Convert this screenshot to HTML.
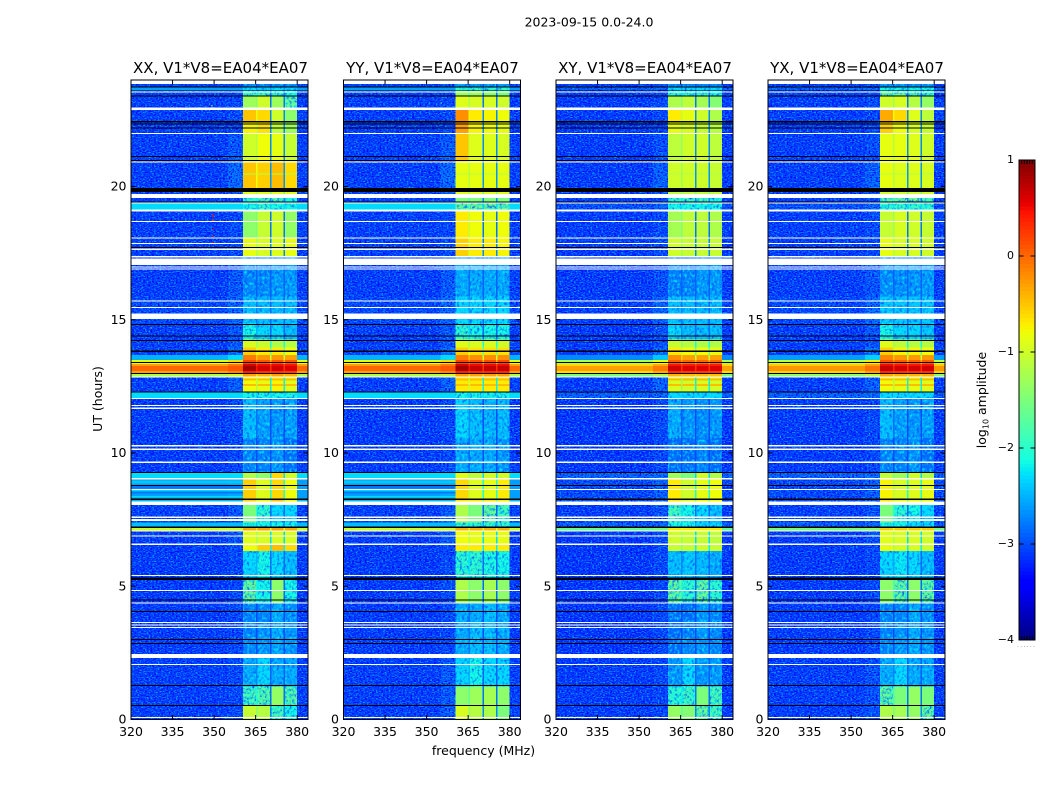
<!DOCTYPE html>
<html>
<head>
<meta charset="utf-8">
<title>2023-09-15 0.0-24.0</title>
<style>
html,body{margin:0;padding:0;background:#fff;width:1050px;height:800px;overflow:hidden}
svg{display:block}
text{font-family:"DejaVu Sans","Liberation Sans",sans-serif;fill:#000;font-size:12.5px}
</style>
</head>
<body>
<svg id="figure" xmlns="http://www.w3.org/2000/svg" width="1050" height="800" viewBox="0 0 1050 800">
<defs>
<filter id="grain" filterUnits="userSpaceOnUse" x="0" y="0" width="1050" height="800" color-interpolation-filters="sRGB">
<feTurbulence type="fractalNoise" baseFrequency="0.55 0.8" numOctaves="1" seed="4" result="n"/>
<feColorMatrix in="n" type="matrix" values="0 0 0 0 0  0 0 0 0 0  0 0 0 0 1  4.5 0 0 0 -2.1" result="dark"/>
<feColorMatrix in="n" type="matrix" values="0 0 0 0 0  0 0 0 0 0.62  0 0 0 0 1  0 6 0 0 -3.2" result="light"/>
<feMerge result="m"><feMergeNode in="dark"/><feMergeNode in="light"/></feMerge>
<feComposite in="m" in2="SourceAlpha" operator="in"/>
</filter>
<filter id="grainBand" filterUnits="userSpaceOnUse" x="0" y="0" width="1050" height="800" color-interpolation-filters="sRGB">
<feTurbulence type="fractalNoise" baseFrequency="0.4 0.35" numOctaves="2" seed="9" result="n"/>
<feColorMatrix in="n" type="matrix" values="0 0 0 0 0  0 0 0 0 0.3  0 0 0 0 1  3 0 0 0 -1.45" result="dark"/>
<feColorMatrix in="n" type="matrix" values="0 0 0 0 0  0 0 0 0 0.9  0 0 0 0 1  0 3 0 0 -1.45" result="light"/>
<feMerge result="m"><feMergeNode in="dark"/><feMergeNode in="light"/></feMerge>
<feComposite in="m" in2="SourceAlpha" operator="in"/>
</filter>
</defs>
<rect width="1050" height="800" fill="#fff"/>
<text x="589" y="26.5" text-anchor="middle">2023-09-15 0.0-24.0</text>
<text x="220.5" y="73" text-anchor="middle" style="font-size:15px">XX, V1*V8=EA04*EA07</text>
<text x="432.5" y="73" text-anchor="middle" style="font-size:15px">YY, V1*V8=EA04*EA07</text>
<text x="645" y="73" text-anchor="middle" style="font-size:15px">XY, V1*V8=EA04*EA07</text>
<text x="857" y="73" text-anchor="middle" style="font-size:15px">YX, V1*V8=EA04*EA07</text>
<text x="102" y="399" text-anchor="middle" transform="rotate(-90 102 399)">UT (hours)</text>
<text x="483.5" y="755" text-anchor="middle">frequency (MHz)</text>
<text x="986" y="400" text-anchor="middle" transform="rotate(-90 986 400)">log<tspan font-size="8" dy="2.5">10</tspan><tspan dy="-2.5"> amplitude</tspan></text>
<text x="1017" y="647" style="font-size:6px;letter-spacing:1.3px;fill:#777">......</text>
<g id="plots"></g>
<g id="colorbar"></g>
</svg>
<script>
// ---------- data ----------
var xTickLabels = [320, 335, 350, 365, 380];
var yTickLabels = [0, 5, 10, 15, 20];
var colorbarTicks = [1, 0, -1, -2, -3, -4];
var freqEdges = [320, 355, 360.4, 365.1, 365.6, 370.2, 370.7, 375.1, 375.6, 380, 384];
var utEdges = [0, 0.55, 1.25, 2.4, 3.7, 4.4, 5.3, 6.35, 6.6, 7.1, 7.24, 7.42, 8.08, 8.29, 9.06, 9.3, 10.6, 12.08, 12.32, 12.89, 13.02, 13.1, 13.3, 13.38, 13.52, 13.7, 14, 14.3, 14.9, 15.9, 17.4, 18.1, 19.18, 19.42, 19.76, 19.98, 20.96, 22.03, 22.5, 23, 23.43, 23.62, 23.77, 24];
var gapLevels = [-2.7, -2.8, -2.9, -3, -3, -2.85, -2.85, -2.2, -2.3, -0.8, -2.55, -2.85, -1.5, -2.1, -2.3, -3, -3, -2.3, -2.2, -0.6, 0.2, 0.3, 0.2, -0.4, -1, -1.6, -2.1, -2.85, -2.85, -2.9, -2.7, -2.8, -2.3, -2.7, -1.5, -2.65, -2.7, -2.7, -2.7, -2.8, -2.8, -2.6, -3];
// each row: left background, mid background, sub-band 1..4 (log10 amplitude)
var rowsXX = [
[-3.05,-3,-1.05,-1.15,-1.8,-2.1],[-3.05,-3,-1.8,-1.7,-1.35,-1.7],[-3.05,-3,-2.55,-2.3,-2.55,-2.55],[-3.07,-3,-2.75,-2.65,-2.55,-2.65],
[-3.07,-3,-2.75,-2.75,-2.55,-2.7],[-3.07,-3,-1.6,-2.1,-1.4,-2.1],[-3.07,-3,-2.3,-2.1,-2.3,-2.45],[-3.07,-3,-0.8,-0.55,-0.45,-0.6],
[-3.07,-2.9,-0.9,-0.95,-0.95,-0.95],[-1,-1,-0.35,-0.3,-0.3,-0.35],[-2.45,-2.45,-2.1,-2.1,-2.1,-2.1],[-3.05,-2.9,-1.5,-1.95,-2.3,-2.3],
[-2.45,-2.45,-0.6,-0.8,-0.5,-0.8],[-2.6,-2.55,-0.55,-0.9,-0.6,-0.8],[-2.3,-2.3,-1.2,-1.4,-0.6,-1],[-3.07,-3,-2.75,-2.75,-2.65,-2.85],
[-3.07,-3,-2.45,-2.6,-2.65,-2.6],[-2.3,-2.3,-2.1,-2.1,-2.1,-2.1],[-3.05,-2.85,-0.8,-0.85,-0.75,-0.9],[-1.2,-1,-0.3,-0.4,-0.3,-0.4],
[-0.3,-0.15,0.4,0.3,0.3,0.25],[0,0.1,0.85,0.65,0.65,0.6],[-0.3,-0.1,0.6,0.5,0.5,0.45],[-0.85,-0.6,0.2,0.1,0.1,0.1],
[-2.5,-2.3,-0.1,-0.25,-0.25,-0.3],[-3.05,-2.75,-0.55,-0.7,-0.7,-0.8],[-3.05,-2.95,-0.95,-1.05,-1.2,-1.15],[-3.05,-2.9,-2.1,-2.3,-2.3,-2.45],
[-3,-2.8,-2.45,-2.45,-2.45,-2.45],[-3.05,-2.9,-2.75,-2.75,-2.65,-2.65],[-3.05,-3,-0.85,-0.95,-0.9,-0.85],[-3.05,-3,-1.4,-1.05,-1,-1.35],
[-2.3,-2.3,-2.1,-1.95,-2.1,-2.1],[-3.05,-3,-1.95,-1.8,-1.8,-2.1],[-3.05,-2.9,-0.9,-0.9,-0.9,-0.9],[-3.05,-2.8,-0.5,-0.55,-0.45,-0.6],
[-3.05,-2.9,-1,-0.8,-0.85,-1.05],[-3.05,-3,-0.75,-0.65,-1.1,-1.3],[-3.05,-3,-0.5,-0.6,-1,-1.4],[-3.05,-3,-1.3,-1,-1.3,-1.6],
[-3.05,-3,-1.8,-1.8,-1.95,-2.1],[-2.6,-2.6,-2.3,-2.3,-2.3,-2.3],[-3.05,-3,-2.75,-2.75,-2.75,-2.75]];
var rowsYY = [
[-3.05,-2.9,-0.95,-1.15,-1.2,-1.5],[-3.05,-2.9,-1.4,-1.3,-1.25,-1.4],[-3.05,-2.9,-2.3,-2.1,-2.3,-2.3],[-3.07,-3,-2.55,-2.45,-2.45,-2.55],
[-3.07,-3,-2.55,-2.55,-2.45,-2.55],[-3.07,-3,-1.2,-1.4,-1.25,-1.4],[-3.07,-3,-1.95,-1.95,-2.05,-2.1],[-3.07,-3,-0.7,-0.7,-0.7,-0.7],
[-3.07,-2.9,-0.8,-0.85,-0.85,-0.85],[-1,-1,-0.4,-0.4,-0.4,-0.4],[-2.45,-2.45,-1.95,-1.95,-1.95,-1.95],[-3.05,-2.9,-1.2,-1.5,-1.6,-1.8],
[-2.45,-2.45,-0.7,-0.7,-0.7,-0.75],[-2.6,-2.55,-0.6,-0.9,-0.85,-0.7],[-2.3,-2.3,-0.9,-1.1,-1,-1],[-3.07,-3,-2.55,-2.55,-2.55,-2.65],
[-3.07,-3,-2.3,-2.45,-2.5,-2.45],[-2.3,-2.3,-2.1,-2.1,-2.1,-2.1],[-3.05,-2.85,-0.7,-0.7,-0.7,-0.7],[-1.2,-1,-0.3,-0.3,-0.3,-0.3],
[-0.3,-0.15,0.4,0.35,0.35,0.35],[0,0.1,0.85,0.7,0.7,0.7],[-0.3,-0.1,0.6,0.5,0.5,0.5],[-0.85,-0.6,0.2,0.15,0.15,0.15],
[-2.5,-2.3,-0.1,-0.2,-0.2,-0.2],[-3.05,-2.75,-0.55,-0.65,-0.65,-0.65],[-3.05,-2.95,-0.9,-0.95,-0.95,-1],[-3.05,-2.9,-1.95,-2.1,-2.1,-2.1],
[-3,-2.8,-2.3,-2.3,-2.3,-2.3],[-3.05,-2.9,-2.55,-2.55,-2.55,-2.55],[-3.05,-3,-0.55,-0.7,-0.7,-0.75],[-3.05,-3,-0.7,-0.8,-0.85,-0.8],
[-2.3,-2.3,-1.6,-1.6,-1.6,-1.6],[-3.05,-3,-1.5,-1.5,-1.5,-1.5],[-3.05,-2.9,-0.9,-0.9,-0.9,-0.9],[-3.05,-2.8,-0.85,-0.85,-0.85,-0.85],
[-3.05,-2.9,-0.5,-0.9,-0.9,-0.95],[-3.05,-3,-0.3,-0.75,-0.8,-0.85],[-3.05,-3,-0.2,-0.7,-0.75,-0.8],[-3.05,-3,-0.9,-0.95,-0.95,-1],
[-3.05,-3,-1.3,-1.3,-1.4,-1.5],[-2.6,-2.6,-1.95,-1.95,-1.95,-1.95],[-3.05,-3,-2.65,-2.65,-2.65,-2.65]];
var rowsXY = [
[-3.07,-3,-1.35,-1.45,-1.6,-1.8],[-3.07,-3,-1.95,-1.85,-1.5,-1.8],[-3.07,-3,-2.65,-2.3,-2.65,-2.65],[-3.1,-3,-2.85,-2.75,-2.65,-2.75],
[-3.1,-3,-2.85,-2.85,-2.65,-2.75],[-3.1,-3,-1.6,-1.95,-1.6,-1.95],[-3.1,-3,-2.45,-2.4,-2.45,-2.55],[-3.1,-3,-1.05,-1.05,-1,-1.05],
[-3.1,-3,-1,-1.05,-1.05,-1.1],[-1.6,-1.5,-0.7,-0.7,-0.7,-0.7],[-2.85,-2.8,-2.1,-2.1,-2.3,-2.3],[-3.07,-2.95,-1.8,-2.1,-2.3,-2.45],
[-2.95,-2.85,-0.7,-0.9,-0.8,-0.8],[-3,-2.85,-0.7,-1,-0.85,-0.8],[-2.85,-2.8,-1.3,-1.5,-1,-1.2],[-3.1,-3,-2.85,-2.85,-2.75,-2.85],
[-3.1,-3,-2.55,-2.65,-2.7,-2.65],[-2.85,-2.8,-2.3,-2.3,-2.3,-2.3],[-3.07,-2.85,-0.95,-1,-0.95,-1],[-1.5,-1.2,-0.4,-0.45,-0.45,-0.45],
[-0.6,-0.35,0.3,0.25,0.25,0.25],[-0.3,-0.1,0.65,0.6,0.6,0.6],[-0.6,-0.35,0.45,0.4,0.4,0.4],[-1.2,-0.8,0.05,0,0,0],
[-2.7,-2.4,-0.2,-0.3,-0.3,-0.3],[-3.07,-2.8,-0.7,-0.8,-0.8,-0.85],[-3.07,-2.95,-1.05,-1.15,-1.2,-1.2],[-3.07,-2.95,-2.3,-2.45,-2.45,-2.45],
[-3.05,-2.85,-2.45,-2.45,-2.45,-2.45],[-3.07,-2.95,-2.75,-2.75,-2.65,-2.65],[-3.07,-3,-1,-1.05,-1.05,-1.05],[-3.07,-3,-1.25,-1.1,-1.1,-1.2],
[-2.95,-2.85,-2.1,-2.1,-2.1,-2.1],[-3.07,-3,-1.95,-1.85,-1.85,-2.1],[-3.07,-2.95,-1.1,-1.1,-1.1,-1.1],[-3.07,-2.85,-1,-1,-1,-1.05],
[-3.07,-2.95,-1.1,-1,-1,-1.1],[-3.07,-3,-0.85,-0.95,-1.05,-1.15],[-3.07,-3,-0.7,-0.85,-1,-1.2],[-3.07,-3,-1.2,-1.1,-1.25,-1.45],
[-3.07,-3,-1.95,-1.95,-1.95,-2.1],[-2.85,-2.8,-2.3,-2.3,-2.3,-2.3],[-3.07,-3,-2.75,-2.75,-2.75,-2.75]];
var rowsYX = [
[-3.05,-2.95,-1.2,-1.25,-1.35,-1.6],[-3.05,-2.95,-1.6,-1.5,-1.35,-1.5],[-3.05,-2.95,-2.55,-2.3,-2.55,-2.55],[-3.07,-3,-2.75,-2.65,-2.55,-2.65],
[-3.07,-3,-2.75,-2.75,-2.55,-2.7],[-3.07,-3,-1.4,-1.6,-1.4,-1.6],[-3.07,-3,-2.3,-2.2,-2.3,-2.45],[-3.07,-3,-0.85,-0.95,-0.95,-1],
[-3.07,-2.95,-0.9,-0.95,-0.95,-1],[-1.5,-1.4,-0.55,-0.55,-0.55,-0.55],[-2.85,-2.8,-2.1,-2.1,-2.3,-2.3],[-3.05,-2.95,-1.5,-1.95,-2.1,-2.3],
[-2.95,-2.85,-0.7,-0.85,-0.8,-0.85],[-3,-2.85,-0.75,-0.95,-0.9,-0.85],[-2.85,-2.8,-1.1,-1.3,-1,-1.2],[-3.07,-3,-2.75,-2.75,-2.65,-2.85],
[-3.07,-3,-2.45,-2.6,-2.65,-2.6],[-2.85,-2.8,-2.3,-2.3,-2.3,-2.3],[-3.05,-2.85,-0.8,-0.85,-0.85,-0.9],[-1.4,-1.1,-0.35,-0.4,-0.4,-0.4],
[-0.55,-0.3,0.35,0.3,0.3,0.3],[-0.25,-0.05,0.7,0.65,0.65,0.65],[-0.55,-0.3,0.5,0.45,0.45,0.45],[-1.1,-0.7,0.1,0.05,0.05,0.05],
[-2.6,-2.35,-0.15,-0.25,-0.25,-0.25],[-3.05,-2.75,-0.55,-0.75,-0.75,-0.8],[-3.05,-2.95,-0.9,-1.1,-1.15,-1.15],[-3.05,-2.9,-2.1,-2.3,-2.3,-2.4],
[-3,-2.8,-2.4,-2.4,-2.4,-2.4],[-3.05,-2.9,-2.7,-2.7,-2.65,-2.65],[-3.05,-3,-0.85,-0.95,-0.95,-1],[-3.05,-3,-1.05,-0.95,-1,-1.05],
[-2.95,-2.85,-1.95,-1.95,-1.95,-1.95],[-3.05,-3,-1.7,-1.6,-1.6,-1.85],[-3.05,-2.95,-1,-1,-1,-1],[-3.05,-2.85,-0.85,-0.9,-0.9,-0.95],
[-3.05,-2.95,-0.85,-0.85,-0.9,-1],[-3.05,-3,-0.55,-0.8,-0.95,-1.05],[-3.05,-3,-0.35,-0.6,-0.9,-1.1],[-3.05,-3,-1,-0.95,-1.15,-1.35],
[-3.05,-3,-1.6,-1.6,-1.8,-1.95],[-2.85,-2.8,-2.1,-2.1,-2.1,-2.1],[-3.05,-3,-2.7,-2.7,-2.7,-2.7]];
// narrow horizontal stripes in background (XX, YY only) and in the sub-bands (all): [from UT, to UT, level]
var backgroundStripes = [[8.35,8.42,-2.3],[8.5,8.56,-2.8],[8.61,8.66,-2.3],[8.7,8.79,-2.8],[8.88,9,-2.4]];
var bandStripes = [[12.55,12.62,-0.45],[12.75,12.82,-0.45],[20.48,20.52,-1.15]];
// flagged (blank) time ranges: [from UT, to UT]
var whiteFlags = [[0,0.04],[0.08,0.12],[2.07,2.11],[2.33,2.48],[3.46,3.5],[3.54,3.58],[3.65,3.69],[4.37,4.41],[4.85,4.89],[5.4,5.44],[6.58,6.62],[6.89,6.93],[7.08,7.12],[7.47,7.55],[7.59,7.64],[8.08,8.2],[8.64,8.68],[9.04,9.08],[9.66,9.7],[10.15,10.19],[10.28,10.32],[11.69,11.73],[11.8,11.84],[12.06,12.1],[12.87,12.91],[15.06,15.27],[15.47,15.51],[15.71,15.75],[16.92,16.96],[16.99,17.03],[17.08,17.33],[17.38,17.42],[17.66,17.7],[17.88,17.92],[18.09,18.13],[18.71,18.75],[19.09,19.18],[19.4,19.44],[19.61,19.76],[20.94,20.98],[22.01,22.05],[22.91,23],[23.57,23.61],[23.89,24]];
var blackFlags = [[0.53,0.57],[1.28,1.32],[2.86,2.9],[3.01,3.05],[4.06,4.1],[4.48,4.52],[5.26,5.36],[7.22,7.26],[8.27,8.31],[8.79,8.83],[9.28,9.32],[12.3,12.34],[13,13.04],[13.41,13.45],[13.83,13.87],[14.24,14.28],[14.41,14.45],[14.84,14.88],[17.72,17.76],[19.44,19.47],[19.83,19.98],[20.99,21.03],[21.14,21.18],[22.21,22.25],[22.36,22.4],[22.45,22.49],[23.41,23.45],[23.62,23.65],[23.75,23.79]];
// isolated hot pixels: [panel, MHz, UT, level]
var specks = [[0,349.3,19.18,0.4],[0,349.3,19.0,0.5],[0,349.3,18.9,0.6],[0,349.3,18.8,0.3],[0,349.3,18.45,0.5],[0,349.3,18.2,0.6],[0,349.3,17.95,0.5],[0,336,19.15,-1.5],[0,327,14.75,-1.4],[0,349,14.75,-1],[0,349,23.1,-1.2],[1,355,23.2,-1.5],[1,351,14.75,-1.4],[2,356,14.75,-1.4],[3,349,14.75,-1.4]];

// ---------- scales ----------
var panelLeft = [131, 343.5, 556, 768];
var panelRows = [rowsXX, rowsYY, rowsXY, rowsYX];
var panelKeys = ['xx', 'yy', 'xy', 'yx'];
var PX_PER_MHZ = 2.77, PANEL_W = 177, Y0 = 720, PX_PER_H = 26.625;
var PLOT_TOP = 80, PLOT_BOTTOM = 719.5;
function xScale(panel, mhz) { return panelLeft[panel] + (mhz - 320) * PX_PER_MHZ; }
function yScale(ut) { return Y0 - ut * PX_PER_H; }
var jetR = [[0,0],[0.35,0],[0.66,1],[0.89,1],[1,0.5]];
var jetG = [[0,0],[0.125,0],[0.375,1],[0.64,1],[0.91,0],[1,0]];
var jetB = [[0,0.5],[0.11,1],[0.34,1],[0.65,0],[1,0]];
function knot(k, t) {
  for (var i = 1; i < k.length; i++) {
    if (t <= k[i][0]) return k[i-1][1] + (k[i][1] - k[i-1][1]) * (t - k[i-1][0]) / (k[i][0] - k[i-1][0]);
  }
  return k[k.length-1][1];
}
function colorOf(level) {
  var t = Math.max(0, Math.min(1, (level + 4) / 5));
  return 'rgb(' + Math.round(255 * knot(jetR, t)) + ',' + Math.round(255 * knot(jetG, t)) + ',' + Math.round(255 * knot(jetB, t)) + ')';
}
var NS = 'http://www.w3.org/2000/svg';
function make(tag, parent, attrs) {
  var el = document.createElementNS(NS, tag);
  for (var k in attrs) el.setAttribute(k, attrs[k]);
  parent.appendChild(el);
  return el;
}
// ---------- draw panels ----------
var columnSource = [0, 1, 2, -2, 3, -1, 4, -1, 5, 0];
var bandColumns = [2, 4, 6, 8];
var plots = document.getElementById('plots');
panelRows.forEach(function (rows, p) {
  var g = make('g', plots, {});
  
  
  var cells = make('g', g, {'shape-rendering': 'crispEdges'});
  
  
  rows.forEach(function (row, r) {
    var y1 = yScale(utEdges[r + 1]), y2 = yScale(utEdges[r]);
    columnSource.forEach(function (src, c) {
      var level;
      if (src === -1) { level = gapLevels[r]; }
      else if (src === -2) { level = Math.max(gapLevels[r], (row[2] + row[3]) / 2 - 0.3); }
      else { level = row[src]; }
      var x1 = xScale(p, freqEdges[c]), x2 = xScale(p, freqEdges[c + 1]);
      var cell = make('rect', cells, {x: x1, y: y1, width: x2 - x1, height: y2 - y1, fill: colorOf(level)});
      
      
    });
  });
  if (p < 2) {
    backgroundStripes.forEach(function (s) {
      var st = make('rect', cells, {x: xScale(p, 320), y: yScale(s[1]), width: xScale(p, 360.4) - xScale(p, 320), height: yScale(s[0]) - yScale(s[1]), fill: colorOf(s[2])});
      
      
    });
  }
  bandStripes.forEach(function (s) {
    bandColumns.forEach(function (c) {
      var st = make('rect', cells, {x: xScale(p, freqEdges[c]), y: yScale(s[1]), width: xScale(p, freqEdges[c + 1]) - xScale(p, freqEdges[c]), height: yScale(s[0]) - yScale(s[1]), fill: colorOf(s[2])});
      
      
    });
  });
  var grain = make('g', g, {filter: 'url(#grain)', 'shape-rendering': 'crispEdges'});
  
  
  var grainBand = make('g', g, {filter: 'url(#grainBand)', 'shape-rendering': 'crispEdges'});
  
  
  rows.forEach(function (row, r) {
    var y1 = yScale(utEdges[r + 1]), y2 = yScale(utEdges[r]);
    columnSource.forEach(function (src, c) {
      if (src < 0) return;
      var level = row[src];
      var x1 = xScale(p, freqEdges[c]), x2 = xScale(p, freqEdges[c + 1]);
      if (src > 1 && level < -1.5) {
        make('rect', grainBand, {x: x1, y: y1, width: x2 - x1, height: y2 - y1, fill: '#000'});
      } else if (level < -2.7) {
        make('rect', grain, {x: x1, y: y1, width: x2 - x1, height: y2 - y1, fill: '#000'});
      }
    });
  });
  specks.forEach(function (s) {
    if (s[0] !== p) return;
    var dot = make('rect', g, {x: xScale(p, s[1]), y: yScale(s[2]), width: 1.4, height: 1.4, fill: colorOf(s[3]), 'shape-rendering': 'crispEdges'});
    
    
  });
  whiteFlags.forEach(function (f) {
    var band = make('rect', g, {x: panelLeft[p], y: yScale(f[1]), width: PANEL_W, height: yScale(f[0]) - yScale(f[1]), fill: '#fff', 'shape-rendering': 'crispEdges'});
    
    
  });
  blackFlags.forEach(function (f) {
    var band = make('rect', g, {x: panelLeft[p], y: yScale(f[1]), width: PANEL_W, height: yScale(f[0]) - yScale(f[1]), fill: '#000', 'shape-rendering': 'crispEdges'});
    
    
  });
  var left = panelLeft[p], right = left + PANEL_W;
  xTickLabels.forEach(function (v) {
    var x = xScale(p, v);
    var a = make('line', g, {x1: x, x2: x, y1: PLOT_BOTTOM, y2: PLOT_BOTTOM - 4.5, stroke: '#000'});
    
    
    var b = make('line', g, {x1: x, x2: x, y1: PLOT_TOP, y2: PLOT_TOP + 4.5, stroke: '#000'});
    
    
    var t = make('text', g, {x: x, y: 736, 'text-anchor': 'middle'});
    t.textContent = v;
    
    
  });
  yTickLabels.forEach(function (v) {
    var y = PLOT_BOTTOM - v * 26.65;
    var a = make('line', g, {x1: left, x2: left + 4.5, y1: y, y2: y, stroke: '#000'});
    
    
    var b = make('line', g, {x1: right, x2: right - 4.5, y1: y, y2: y, stroke: '#000'});
    
    
    var t = make('text', g, {x: left - 4.5, y: y + 4, 'text-anchor': 'end'});
    t.textContent = v;
    
    
  });
  var frame = make('rect', g, {x: left, y: PLOT_TOP, width: PANEL_W, height: PLOT_BOTTOM - PLOT_TOP, fill: 'none', stroke: '#000', 'stroke-width': 1});
  
  
});
// ---------- colorbar ----------
var cb = document.getElementById('colorbar');
var CB_X = 1019, CB_W = 16, CB_TOP = 160, CB_H = 480;
function cbY(level) { return CB_TOP + (1 - level) / 5 * CB_H; }
for (var lv = -4; lv < 1; lv += 0.04) {
  var seg = make('rect', cb, {x: CB_X, y: cbY(lv + 0.04), width: CB_W, height: cbY(lv) - cbY(lv + 0.04) + 0.5, fill: colorOf(lv + 0.02), 'shape-rendering': 'crispEdges'});
  
  
}
colorbarTicks.forEach(function (v) {
  var y = cbY(v);
  var a = make('line', cb, {x1: CB_X, x2: CB_X + 4.5, y1: y, y2: y, stroke: '#000'});
  
  
  var b = make('line', cb, {x1: CB_X + CB_W, x2: CB_X + CB_W - 4.5, y1: y, y2: y, stroke: '#000'});
  
  
  var t = make('text', cb, {x: 1014, y: y + 3, 'text-anchor': 'end', style: 'font-size:11px'});
  t.textContent = v < 0 ? '\u2212' + (-v) : String(v);
  
  
});
for (var i = 1; i <= 5; i++) {
  var tx = CB_X + i * CB_W / 6;
  var t1 = make('line', cb, {x1: tx, x2: tx, y1: CB_TOP, y2: CB_TOP + 4, stroke: '#000'});
  
  
  var t2 = make('line', cb, {x1: tx, x2: tx, y1: CB_TOP + CB_H, y2: CB_TOP + CB_H - 4, stroke: '#000'});
  
  
}
var cbFrame = make('rect', cb, {x: CB_X, y: CB_TOP, width: CB_W, height: CB_H, fill: 'none', stroke: '#000', 'stroke-width': 1});


</script>
</body>
</html>
